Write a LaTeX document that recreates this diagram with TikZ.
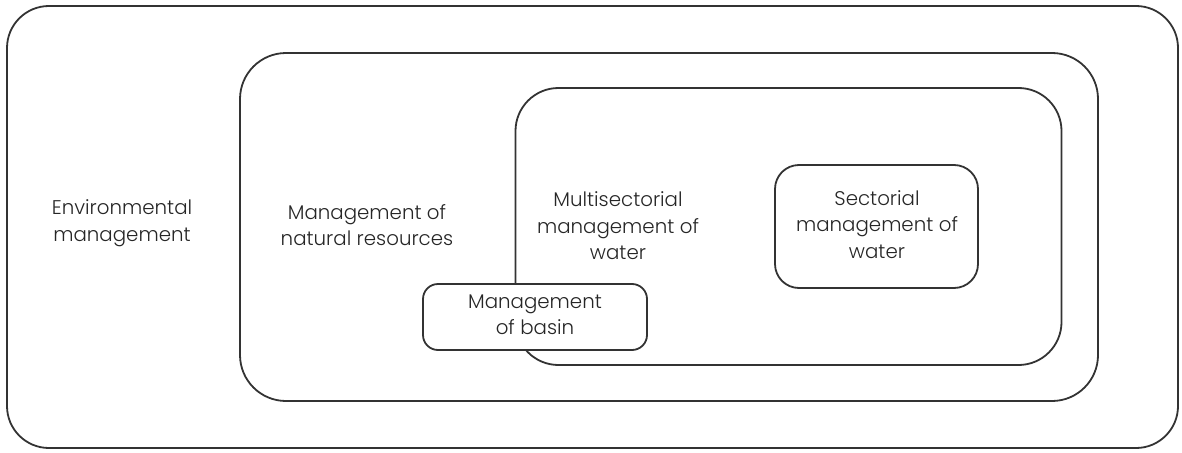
\documentclass[tikz,border=0pt]{standalone}
\usepackage{fontspec}
\setmainfont{Poppins}[UprightFont=* Light]
\begin{document}
\begin{tikzpicture}[x=1pt,y=-1pt,
  box/.style={draw=black!80, line width=1.8pt, rounded corners=#1, inner sep=0pt},
  txt/.style={align=center, font=\fontsize{19.8}{26.5}\selectfont, text=black!85, inner sep=0pt}]
\useasboundingbox (0,0) rectangle (1182,452);
\node[box=42pt, minimum width=1171pt, minimum height=442pt] (env) at (592.5,227) {};
\node[box=46pt, minimum width=858pt, minimum height=348pt] (nat) at (669,227) {};
\node[box=43pt, minimum width=546pt, minimum height=277pt] (multi) at (788.5,226.5) {};
\node[box=24pt, minimum width=203pt, minimum height=123pt] (sect) at (876.5,226.5) {};
\node[txt] (sectt) at (877,224.5) {Sectorial\\management of\\water};
\node[box=15pt, fill=white, minimum width=224pt, minimum height=66pt] (basin) at (535,317) {};
\node[txt] (basint) at (535,314.5) {Management\\of basin};
\node[txt] (envt) at (122,223) {Environmental\\management};
\node[txt] (natt) at (367,225) {Management of\\natural resources};
\node[txt] (multit) at (618,226) {Multisectorial\\management of\\water};
\end{tikzpicture}
\end{document}
